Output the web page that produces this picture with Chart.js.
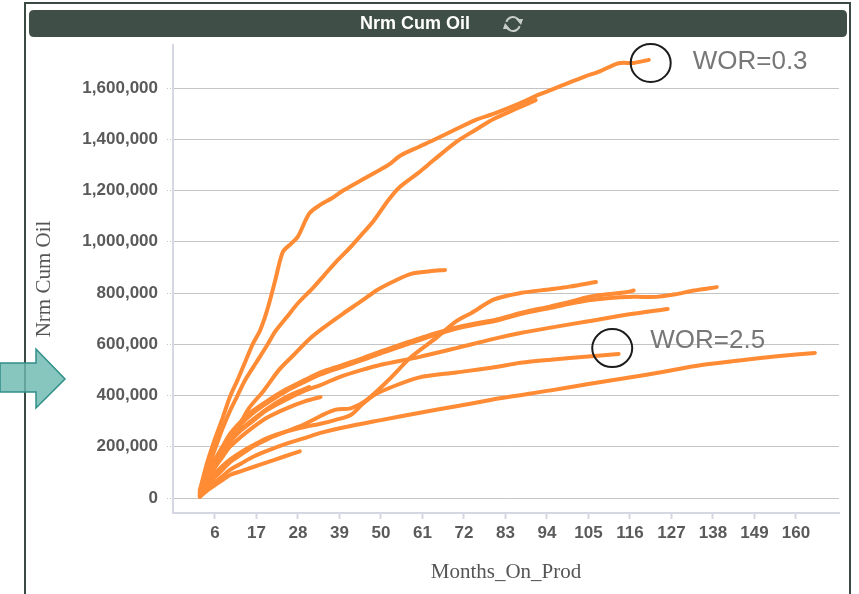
<!DOCTYPE html>
<html>
<head>
<meta charset="utf-8">
<script src="https://cdn.jsdelivr.net/npm/chart.js@4.4.1/dist/chart.umd.min.js"></script>
<style>
  html, body { margin: 0; padding: 0; background: #fff; }
  #wrap { position: relative; width: 859px; height: 594px; }
</style>
</head>
<body>
<div id="wrap"><canvas id="cumOil" width="859" height="594"></canvas></div>
<script>
// tick labels
const xTickValues = [6, 17, 28, 39, 50, 61, 72, 83, 94, 105, 116, 127, 138, 149, 160];
const yTickValues = [0, 200000, 400000, 600000, 800000, 1000000, 1200000, 1400000, 1600000];

// wells: months on prod + normalized cum oil (thousands)
const wellA_mo  = [2, 4, 6, 8, 10, 12, 14, 16, 18, 20, 22, 24, 26, 28, 31, 34, 37, 40, 46, 52, 55, 60, 64, 70, 75, 80, 86, 92, 98, 104, 108, 113, 117, 121];
const wellA_oil = [30, 140, 230, 310, 395, 460, 530, 600, 655, 740, 850, 960, 990, 1020, 1110, 1145, 1170, 1200, 1250, 1300, 1335, 1370, 1397, 1440, 1475, 1500, 1535, 1575, 1610, 1645, 1665, 1697, 1698, 1710];

const wellB_mo  = [2, 4, 6, 8, 10, 12, 14, 17, 20, 22, 25, 28, 32, 35, 38, 42, 45, 48, 52, 55, 60, 64, 70, 75, 80, 86, 91];
const wellB_oil = [20, 110, 190, 270, 340, 400, 460, 530, 600, 650, 705, 760, 820, 870, 920, 980, 1030, 1080, 1163, 1214, 1270, 1319, 1390, 1436, 1480, 1520, 1553];

const wellC_mo  = [2, 4, 6, 8, 10, 12, 15, 19, 23, 27, 31, 35, 40, 45, 49, 54, 58, 63, 67];
const wellC_oil = [10, 70, 120, 170, 220, 270, 350, 420, 500, 560, 620, 667, 720, 770, 812, 850, 875, 885, 890];

const wellE_mo  = [2, 4, 6, 8, 10, 13, 16, 20, 25, 30, 34, 38, 42, 46, 52, 58, 65, 70, 74, 80, 87, 95, 100, 107];
const wellE_oil = [10, 45, 80, 110, 140, 170, 200, 230, 260, 290, 320, 345, 350, 380, 460, 550, 629, 690, 722, 775, 800, 815, 825, 843];

const wellF_mo  = [2, 4, 6, 8, 10, 13, 16, 20, 25, 30, 34, 39, 45, 50, 55, 60, 65, 72, 81, 87, 95, 100, 105, 110, 115, 117];
const wellF_oil = [30, 95, 150, 200, 250, 300, 340, 380, 425, 462, 490, 515, 545, 572, 598, 622, 645, 672, 698, 722, 748, 765, 785, 795, 803, 810];

const wellG_mo  = [2, 4, 6, 8, 10, 13, 16, 20, 25, 30, 34, 39, 45, 50, 55, 60, 65, 72, 81, 87, 95, 100, 105, 110, 117, 123, 128, 133, 139];
const wellG_oil = [25, 90, 140, 190, 240, 290, 330, 372, 418, 455, 482, 508, 538, 565, 590, 615, 640, 668, 694, 718, 742, 758, 772, 780, 785, 785, 795, 810, 823];

const wellH_mo  = [2, 4, 6, 8, 10, 13, 16, 20, 25, 30, 34, 39, 45, 50, 60, 70, 81, 87, 95, 105, 115, 126];
const wellH_oil = [20, 80, 130, 180, 220, 265, 300, 345, 385, 420, 441, 472, 500, 520, 550, 585, 625, 644, 665, 690, 715, 738];

const wellI_mo  = [2, 4, 6, 8, 10, 13, 16, 20, 25, 30, 34, 38, 42, 45, 48, 52, 60, 70, 80, 87, 95, 105, 113];
const wellI_oil = [10, 60, 95, 125, 150, 180, 205, 235, 260, 278, 290, 305, 324, 365, 400, 428, 470, 490, 510, 528, 540, 552, 562];

const wellJ_mo  = [2, 4, 6, 8, 10, 13, 16, 20, 25, 30, 34, 40, 50, 60, 70, 82, 95, 105, 115, 125, 135, 145, 155, 165];
const wellJ_oil = [5, 35, 60, 85, 110, 135, 160, 185, 212, 235, 254, 275, 304, 332, 358, 390, 420, 445, 468, 493, 519, 537, 553, 566];

const wellS1_mo  = [2, 4, 6, 8, 10, 13, 16, 20, 25, 28, 31];
const wellS1_oil = [20, 90, 140, 185, 230, 270, 305, 350, 395, 415, 433];

const wellS2_mo  = [2, 4, 6, 8, 10, 13, 16, 20, 25, 30, 34];
const wellS2_oil = [15, 75, 120, 160, 200, 240, 275, 315, 350, 378, 394];

const wellS3_mo  = [2, 4, 6, 8, 10, 13, 16, 20, 24, 28.5];
const wellS3_oil = [5, 30, 50, 70, 90, 105, 120, 140, 160, 182];

// annotations
const annoLabels = ['WOR=0.3', 'WOR=2.5'];
const annoMonths = [121.5, 111.3];
const annoOil    = [1698000, 585000];

const chartTitle = 'Nrm Cum Oil';

const wells = [
    [wellA_mo, wellA_oil], [wellB_mo, wellB_oil], [wellC_mo, wellC_oil],
    [wellE_mo, wellE_oil], [wellF_mo, wellF_oil], [wellG_mo, wellG_oil],
    [wellH_mo, wellH_oil], [wellI_mo, wellI_oil], [wellJ_mo, wellJ_oil],
    [wellS1_mo, wellS1_oil], [wellS2_mo, wellS2_oil], [wellS3_mo, wellS3_oil]
];

const lineColor = '#ff8b34';
const tickFont = { family: '"Liberation Sans", Arial, sans-serif', size: 17, weight: 'bold' };
const titleFont = { family: '"Liberation Serif", "Times New Roman", serif', size: 21 };

function roundRect(ctx, x, y, w, h, r) {
    ctx.beginPath();
    ctx.moveTo(x + r, y);
    ctx.lineTo(x + w - r, y);
    ctx.quadraticCurveTo(x + w, y, x + w, y + r);
    ctx.lineTo(x + w, y + h - r);
    ctx.quadraticCurveTo(x + w, y + h, x + w - r, y + h);
    ctx.lineTo(x + r, y + h);
    ctx.quadraticCurveTo(x, y + h, x, y + h - r);
    ctx.lineTo(x, y + r);
    ctx.quadraticCurveTo(x, y, x + r, y);
    ctx.closePath();
}

const framePlugin = {
    id: 'frame',
    beforeDraw(chart) {
        const ctx = chart.ctx;
        ctx.save();
        ctx.fillStyle = '#fff';
        ctx.fillRect(0, 0, chart.width, chart.height);

        // panel border
        ctx.strokeStyle = '#3c4a44';
        ctx.lineWidth = 2;
        ctx.beginPath();
        ctx.moveTo(25, 600);
        ctx.lineTo(25, 3);
        ctx.lineTo(850, 3);
        ctx.lineTo(850, 600);
        ctx.stroke();

        // title bar
        ctx.fillStyle = '#3f4e47';
        roundRect(ctx, 29, 10, 818, 27, 5);
        ctx.fill();
        ctx.fillStyle = '#fff';
        ctx.font = 'bold 18px "Liberation Sans", Arial, sans-serif';
        ctx.textAlign = 'center';
        ctx.textBaseline = 'middle';
        ctx.fillText(chartTitle, 415, 24);

        // refresh icon
        const cx = 513, cy = 24, r = 7;
        ctx.strokeStyle = '#c9cfcb';
        ctx.fillStyle = '#c9cfcb';
        ctx.lineWidth = 2;
        ctx.beginPath();
        ctx.arc(cx, cy, r, Math.PI * 1.1, Math.PI * 1.85);
        ctx.stroke();
        ctx.beginPath();
        ctx.arc(cx, cy, r, Math.PI * 0.1, Math.PI * 0.85);
        ctx.stroke();
        ctx.beginPath();
        ctx.moveTo(cx + r + 3, cy - 5); ctx.lineTo(cx + r - 4, cy - 5); ctx.lineTo(cx + r + 1, cy + 1); ctx.closePath();
        ctx.fill();
        ctx.beginPath();
        ctx.moveTo(cx - r - 3, cy + 5); ctx.lineTo(cx - r + 4, cy + 5); ctx.lineTo(cx - r - 1, cy - 1); ctx.closePath();
        ctx.fill();

        // teal arrow pointing at the axis
        ctx.beginPath();
        ctx.moveTo(0, 363);
        ctx.lineTo(36, 363);
        ctx.lineTo(36, 349);
        ctx.lineTo(65, 379);
        ctx.lineTo(36, 408);
        ctx.lineTo(36, 392);
        ctx.lineTo(0, 392);
        ctx.closePath();
        ctx.fillStyle = 'rgba(108, 184, 177, 0.82)';
        ctx.fill();
        ctx.strokeStyle = '#2f8f88';
        ctx.lineWidth = 1.5;
        ctx.stroke();
        ctx.restore();
    },
    afterDraw(chart) {
        const ctx = chart.ctx;
        const xs = chart.scales.x, ys = chart.scales.y;
        const textDx = [42, 38], textDy = [-1, -7];
        ctx.save();
        annoLabels.forEach((label, i) => {
            const px = xs.getPixelForValue(annoMonths[i]);
            const py = ys.getPixelForValue(annoOil[i]);
            ctx.strokeStyle = '#1c1c1c';
            ctx.lineWidth = 2;
            ctx.beginPath();
            ctx.ellipse(px, py, 20, 19, 0, 0, Math.PI * 2);
            ctx.stroke();
            ctx.fillStyle = '#777';
            ctx.font = '26px "Liberation Sans", Arial, sans-serif';
            ctx.textAlign = 'left';
            ctx.textBaseline = 'middle';
            ctx.fillText(label, px + textDx[i], py + textDy[i]);
        });
        ctx.restore();
    }
};

const datasets = wells.map(([mo, oil], i) => ({
    label: 'Well ' + (i + 1),
    data: mo.map((m, k) => ({ x: m, y: oil[k] * 1000 })),
    showLine: true,
    borderColor: lineColor,
    backgroundColor: lineColor,
    borderWidth: 4,
    pointRadius: 0,
    tension: 0.3,
    borderCapStyle: 'round',
    borderJoinStyle: 'round'
}));

new Chart(document.getElementById('cumOil'), {
    type: 'scatter',
    data: { datasets },
    options: {
        responsive: false,
        animation: false,
        layout: { padding: { left: 25, top: 45, right: 20, bottom: 0 } },
        plugins: {
            legend: { display: false },
            tooltip: { enabled: false },
            title: { display: false }
        },
        scales: {
            x: {
                type: 'linear',
                min: -5.1,
                max: 171.4,
                afterBuildTicks: s => { s.ticks = xTickValues.map(v => ({ value: v })); },
                afterFit: s => { s.height = 81; },
                grid: { drawOnChartArea: false, drawTicks: true, tickLength: 6, color: '#d5d8e2', tickColor: '#d5d8e2', tickWidth: 2 },
                border: { color: '#d5d8e2', width: 2 },
                ticks: { font: tickFont, color: '#5a5a5a', padding: 4, maxRotation: 0, autoSkip: false },
                title: { display: true, text: 'Months_On_Prod', font: titleFont, color: '#555', padding: { top: 4, bottom: 9 } }
            },
            y: {
                min: -58500,
                max: 1768000,
                afterBuildTicks: s => { s.ticks = yTickValues.map(v => ({ value: v })); },
                afterFit: s => { s.width = 148; },
                grid: { color: '#c4c4c4', borderDash: [1, 2], tickBorderDash: [1, 2], tickLength: 6, tickColor: '#c4c4c4' },
                border: { color: '#d5d8e2', width: 2 },
                ticks: { font: tickFont, color: '#5a5a5a', padding: 9 },
                title: { display: true, text: 'Nrm Cum Oil', font: titleFont, color: '#555', padding: { top: 7, bottom: 4 } }
            }
        }
    },
    plugins: [framePlugin]
});
</script>
</body>
</html>
